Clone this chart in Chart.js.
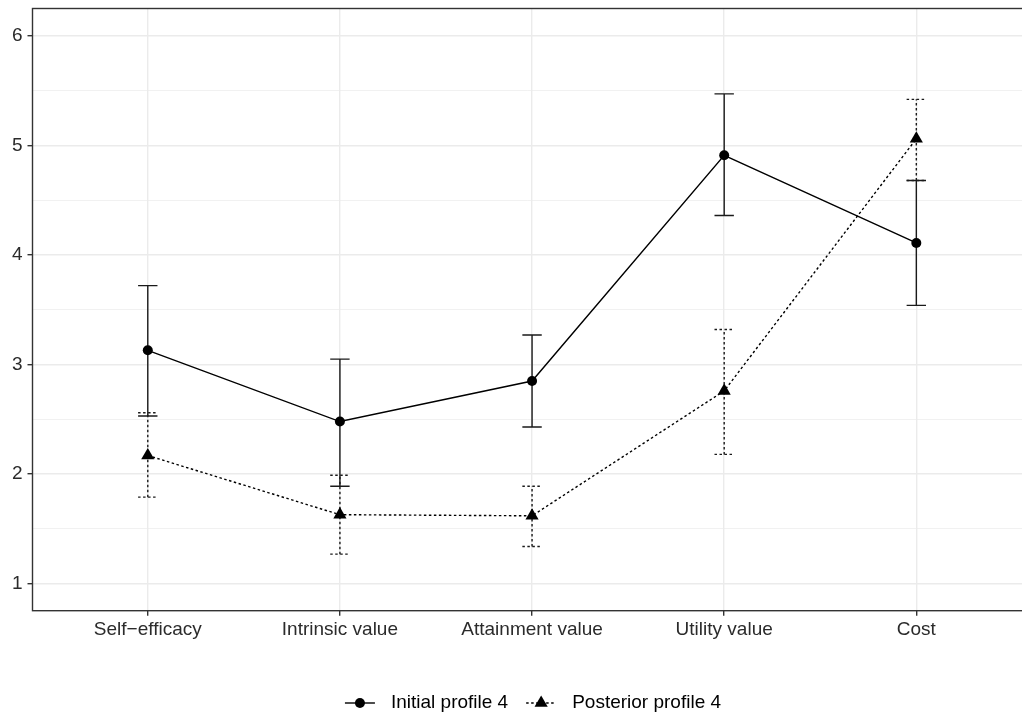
<!DOCTYPE html>
<html lang="en">
<head>
  <meta charset="UTF-8">
  <title>Initial vs posterior profile 4</title>
  <style>
    html, body {
      margin: 0;
      padding: 0;
      background: #fff;
      overflow: hidden;
    }
    #wrap {
      width: 1022px;
      height: 716px;
      position: relative;
    }
  </style>
  <script src="https://cdn.jsdelivr.net/npm/chart.js"></script>
</head>
<body>

  <div id="wrap"><canvas id="grafico"></canvas></div>

  <script>
    // data
    const categories = ['Self\u2212efficacy', 'Intrinsic value', 'Attainment value', 'Utility value', 'Cost'];

    const initialMean = [3.13, 2.48, 2.85, 4.91, 4.11];
    const initialLow  = [2.53, 1.89, 2.43, 4.36, 3.54];
    const initialHigh = [3.72, 3.05, 3.27, 5.47, 4.68];

    const posteriorMean = [2.17, 1.63, 1.62, 2.76, 5.06];
    const posteriorLow  = [1.79, 1.27, 1.34, 2.18, 4.68];
    const posteriorHigh = [2.56, 1.99, 1.89, 3.32, 5.42];

    const yTicks = [1, 1.5, 2, 2.5, 3, 3.5, 4, 4.5, 5, 5.5, 6];
    const xTicks = [0, 1, 2, 3, 4];

    const FONT = '"Liberation Sans", Arial, Helvetica, sans-serif';
    const FONT_SIZE = 19;

    function puntos(valores) {
      return valores.map((v, i) => ({ x: i, y: v }));
    }

    // error bars, drawn under the lines and points
    const barrasError = {
      id: 'barrasError',
      beforeDatasetsDraw(chart) {
        const ctx = chart.ctx;
        const xs = chart.scales.x, ys = chart.scales.y;
        chart.data.datasets.forEach((ds, k) => {
          if (!chart.isDatasetVisible(k)) return;
          ctx.save();
          ctx.strokeStyle = ds.barColor;
          ctx.lineWidth = ds.barWidth;
          ctx.setLineDash(ds.borderDash || []);
          ds.data.forEach((p, i) => {
            const x = xs.getPixelForValue(p.x);
            const y1 = ys.getPixelForValue(ds.errLow[i]);
            const y2 = ys.getPixelForValue(ds.errHigh[i]);
            const cap = 9.7;
            ctx.beginPath();
            ctx.moveTo(x, y1); ctx.lineTo(x, y2);
            ctx.moveTo(x - cap, y1); ctx.lineTo(x + cap, y1);
            ctx.moveTo(x - cap, y2); ctx.lineTo(x + cap, y2);
            ctx.stroke();
          });
          ctx.restore();
        });
      }
    };

    // panel border (top, left, bottom; right side runs off the picture)
    const bordePanel = {
      id: 'bordePanel',
      afterDatasetsDraw(chart) {
        const { left, top, right, bottom } = chart.chartArea;
        const ctx = chart.ctx;
        ctx.save();
        ctx.strokeStyle = '#333333';
        ctx.lineWidth = 1.4;
        ctx.strokeRect(left, top, right - left + 4, bottom - top);
        ctx.restore();
      }
    };

    // ggplot style legend: line + marker, then label
    const leyenda = {
      id: 'leyenda',
      afterDraw(chart) {
        const ctx = chart.ctx;
        ctx.save();
        ctx.font = FONT_SIZE + 'px ' + FONT;
        const symW = 30, gapText = 16, gapItem = 18;
        const items = chart.data.datasets.map(ds => ({ ds, w: ctx.measureText(ds.label).width }));
        const total = items.reduce((s, it) => s + symW + gapText + it.w, 0) + gapItem * (items.length - 1);
        let x = 533 - total / 2;
        const y = 703;
        items.forEach(({ ds, w }) => {
          ctx.save();
          ctx.strokeStyle = ds.borderColor;
          ctx.lineWidth = ds.borderWidth;
          ctx.setLineDash(ds.borderDash || []);
          ctx.beginPath();
          ctx.moveTo(x, y); ctx.lineTo(x + symW, y);
          ctx.stroke();
          ctx.setLineDash([]);
          ctx.fillStyle = ds.pointBackgroundColor;
          Chart.helpers.drawPoint(ctx, {
            pointStyle: ds.pointStyle, radius: ds.pointRadius, rotation: 0, borderWidth: 0
          }, x + symW / 2, y);
          ctx.restore();

          ctx.fillStyle = '#000';
          ctx.textBaseline = 'middle';
          ctx.textAlign = 'left';
          ctx.fillText(ds.label, x + symW + gapText, y);
          x += symW + gapText + w + gapItem;
        });
        ctx.restore();
      }
    };

    new Chart(document.getElementById('grafico'), {
      type: 'line',
      data: {
        datasets: [
          {
            label: 'Initial profile 4',
            data: puntos(initialMean),
            errLow: initialLow,
            errHigh: initialHigh,
            borderColor: '#000',
            borderWidth: 1.4,
            barColor: '#1a1a1a',
            barWidth: 1.4,
            pointStyle: 'circle',
            pointRadius: 5,
            pointHoverRadius: 5,
            pointBackgroundColor: '#000',
            pointBorderWidth: 0,
            tension: 0
          },
          {
            label: 'Posterior profile 4',
            data: puntos(posteriorMean),
            errLow: posteriorLow,
            errHigh: posteriorHigh,
            borderColor: '#000',
            borderWidth: 1.4,
            borderDash: [2.5, 2.5],
            barColor: '#1a1a1a',
            barWidth: 1.4,
            pointStyle: 'triangle',
            pointRadius: 7.6,
            pointHoverRadius: 7.6,
            pointBackgroundColor: '#000',
            pointBorderWidth: 0,
            tension: 0
          }
        ]
      },
      options: {
        responsive: true,
        maintainAspectRatio: false,
        animation: false,
        layout: {
          autoPadding: false,
          padding: { top: 8.5, left: 0, right: 0, bottom: 0 }
        },
        plugins: {
          legend: { display: false },
          tooltip: { enabled: false }
        },
        scales: {
          x: {
            type: 'linear',
            min: -0.6,
            max: 4.55,
            afterBuildTicks: scale => { scale.ticks = xTicks.map(v => ({ value: v })); },
            afterFit: scale => {
              scale.height = 105.3;
              scale.paddingLeft = 0;
              scale.paddingRight = 0;
            },
            border: { display: false },
            grid: {
              color: '#ebebeb',
              lineWidth: 1.4,
              tickColor: '#333333',
              tickLength: 5,
              tickWidth: 1.4
            },
            ticks: {
              autoSkip: false,
              maxRotation: 0,
              padding: 3,
              color: '#2b2b2b',
              font: { family: FONT, size: FONT_SIZE },
              callback: v => categories[v] ?? ''
            }
          },
          y: {
            type: 'linear',
            min: 0.754,
            max: 6.249,
            afterBuildTicks: scale => { scale.ticks = yTicks.map(v => ({ value: v })); },
            afterFit: scale => {
              scale.width = 32.5;
              scale.paddingTop = 0;
              scale.paddingBottom = 0;
            },
            border: { display: false },
            grid: {
              color: '#ebebeb',
              lineWidth: c => Number.isInteger(c.tick.value) ? 1.4 : 0.7,
              tickColor: c => Number.isInteger(c.tick.value) ? '#333333' : 'rgba(0,0,0,0)',
              tickLength: 5,
              tickWidth: 1.4
            },
            ticks: {
              padding: 5,
              color: '#2b2b2b',
              font: { family: FONT, size: FONT_SIZE },
              callback: v => Number.isInteger(v) ? v : ''
            }
          }
        }
      },
      plugins: [barrasError, bordePanel, leyenda]
    });
  </script>
</body>
</html>
